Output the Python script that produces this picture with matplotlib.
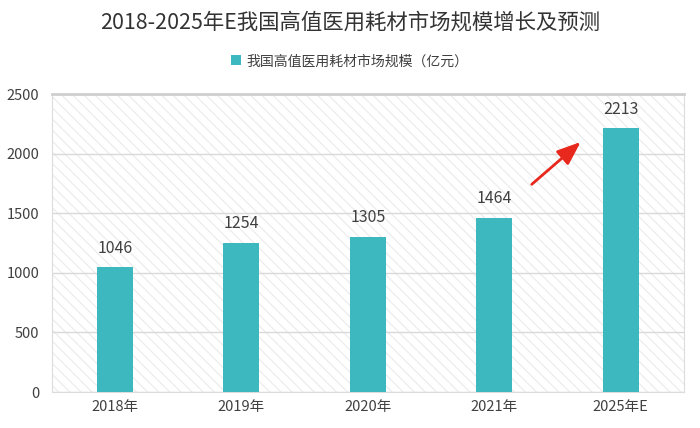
import numpy as np
import matplotlib
matplotlib.use('Agg')
import matplotlib.pyplot as plt
from matplotlib.patches import Rectangle

plt.rcParams['font.family'] = ['Noto Sans CJK SC', 'DejaVu Sans']
plt.rcParams['hatch.linewidth'] = 0.8

years = ['2018年', '2019年', '2020年', '2021年', '2025年E']
values = [1046, 1254, 1305, 1464, 2213]
series_name = '我国高值医用耗材市场规模（亿元）'
title = '2018-2025年E我国高值医用耗材市场规模增长及预测'

bar_color = '#3cb8be'
text_color = '#404040'

fig = plt.figure(figsize=(7, 4.28), dpi=100)
ax = fig.add_axes([0.074, 0.084, 0.903, 0.696])

# hatched background
bg = Rectangle((0, 0), 1, 1, transform=ax.transAxes, facecolor='white',
               edgecolor='#ebebeb', hatch='\\\\\\', linewidth=0, zorder=0)
ax.add_patch(bg)

x = np.arange(len(years))
bars = ax.bar(x, values, width=0.285, color=bar_color, zorder=3,
              label=series_name)
for xi, v in zip(x, values):
    ax.text(xi, v + 85, str(v), ha='center', va='bottom', fontsize=11.5,
            color=text_color, zorder=4)

ax.set_xlim(-0.5, 4.5)
ax.set_ylim(0, 2500)
ax.set_yticks(np.arange(0, 2501, 500))
ax.set_xticks(x)
ax.set_xticklabels(years)
ax.yaxis.grid(True, color='#d9d9d9', linewidth=1, zorder=1)
ax.set_axisbelow(True)
ax.tick_params(axis='both', length=0, labelsize=10.5, colors=text_color)
ax.tick_params(axis='y', pad=9)
ax.tick_params(axis='x', pad=6)
for s in ['left', 'right', 'bottom']:
    ax.spines[s].set_color('#dcdcdc')
ax.spines['top'].set_color('#cfcfcf')
ax.spines['top'].set_linewidth(2)

ax.annotate('', xy=(3.70, 2114), xytext=(3.28, 1728),
            arrowprops=dict(arrowstyle='-|>,head_length=0.9,head_width=0.35',
                            color='#e8281c', lw=2, mutation_scale=16), zorder=5)

fig.text(0.5, 0.948, title, ha='center', va='center', fontsize=15.4,
         color='#333333')
fig.legend(handles=[bars], labels=[series_name], loc='center',
           bbox_to_anchor=(0.5, 0.857), frameon=False, fontsize=10,
           handlelength=0.7, handleheight=0.7, handletextpad=0.4,
           labelcolor=text_color)

fig.savefig('out.png', dpi=100)
